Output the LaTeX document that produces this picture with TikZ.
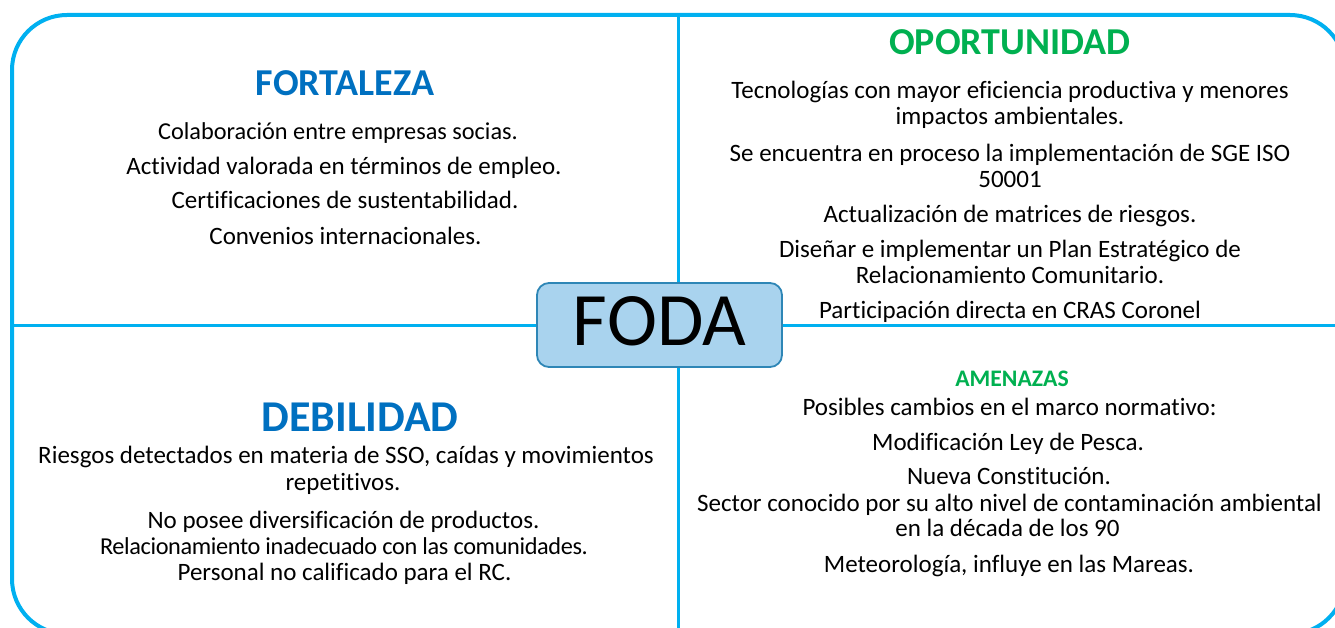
\documentclass[tikz,border=0pt]{standalone}
\usepackage{fontspec}
\setmainfont{Carlito}[Ligatures=NoCommon]
\definecolor{frame}{HTML}{00B0F0}
\definecolor{tblue}{HTML}{0070C0}
\definecolor{tgreen}{HTML}{00B050}
\definecolor{boxfill}{HTML}{A9D3EE}
\definecolor{boxline}{HTML}{2E86B6}
\begin{document}
\begin{tikzpicture}[x=1pt,y=-1pt,
  body/.style={font=\fontsize{25}{29}\selectfont, anchor=base, inner sep=0pt},
  bigtitle/.style={font=\fontsize{38}{42}\selectfont\bfseries, anchor=base, inner sep=0pt},
  smalltitle/.style={font=\fontsize{23.7}{26}\selectfont\bfseries, anchor=base, inner sep=0pt},
  frameline/.style={draw=frame, line width=4pt},
  divider/.style={draw=frame, line width=3pt},
  fodabox/.style={draw=boxline, line width=1.8pt, fill=boxfill, rounded corners=12pt,
    minimum width=245pt, minimum height=84pt, inner sep=0pt,
    text height=48pt, text depth=8pt, font=\fontsize{75.5}{80}\selectfont}]
\useasboundingbox (0,0) rectangle (1335,628);
\fill[white] (0,0) rectangle (1335,628);
\clip (0,0) rectangle (1335,628);
% frame
\draw[frameline, rounded corners=55pt] (12,15) rectangle (1345,634);
% dividers
\coordinate (vtop) at (678,15);
\coordinate (vbot) at (678,634);
\coordinate (hleft) at (12,325);
\coordinate (hright) at (1345,325);
\draw[divider] (vtop) -- (vbot);
\draw[divider] (hleft) -- (hright);
% center
\node[fodabox] (foda) at (659.5,325) {FODA};
% FORTALEZA
\node[bigtitle, text=tblue] (f0) at (345,96) {FORTALEZA};
\node[body, font=\fontsize{24.3}{28}\selectfont] (f1) at (338,139.5) {Colaboración entre empresas socias.};
\node[body] (f2) at (344,174.5) {Actividad valorada en términos de empleo.};
\node[body] (f3) at (345,208.5) {Certificaciones de sustentabilidad.};
\node[body] (f4) at (345.5,244.5) {Convenios internacionales.};
% OPORTUNIDAD
\node[bigtitle, text=tgreen] (o0) at (1010,55) {OPORTUNIDAD};
\node[body] (o1) at (1010,98.5) {Tecnologías con mayor eficiencia productiva y menores};
\node[body] (o2) at (1010,124.5) {impactos ambientales.};
\node[body] (o3) at (1010,161.5) {Se encuentra en proceso la implementación de SGE ISO};
\node[body] (o4) at (1010,187.5) {50001};
\node[body] (o5) at (1010,222.5) {Actualización de matrices de riesgos.};
\node[body] (o6) at (1010,257.5) {Diseñar e implementar un Plan Estratégico de};
\node[body] (o7) at (1010,283.5) {Relacionamiento Comunitario.};
\node[body] (o8) at (1010,318.5) {Participación directa en CRAS Coronel};
% DEBILIDAD
\node[bigtitle, text=tblue, font=\fontsize{44}{48}\selectfont\bfseries] (d0) at (360,431.5) {DEBILIDAD};
\node[body] (d1) at (346,463.5) {Riesgos detectados en materia de SSO, caídas y movimientos};
\node[body] (d2) at (343,490.5) {repetitivos.};
\node[body] (d3) at (343.5,528.5) {No posee diversificación de productos.};
\node[body, font=\fontsize{24.3}{28}\selectfont\addfontfeature{LetterSpace=-1.5}] (d4) at (344,554.5) {Relacionamiento inadecuado con las comunidades.};
\node[body] (d5) at (344.5,580.5) {Personal no calificado para el RC.};
% AMENAZAS
\node[smalltitle, text=tgreen] (a0) at (1012,386.7) {AMENAZAS};
\node[body] (a1) at (1009.5,415) {Posibles cambios en el marco normativo:};
\node[body] (a2) at (1008,450.5) {Modificación Ley de Pesca.};
\node[body] (a3) at (1009,484.5) {Nueva Constitución.};
\node[body] (a4) at (1009.5,511.7) {Sector conocido por su alto nivel de contaminación ambiental};
\node[body] (a5) at (1007.5,536.5) {en la década de los 90};
\node[body] (a6) at (1009,572.5) {Meteorología, influye en las Mareas.};
\end{tikzpicture}
\end{document}
